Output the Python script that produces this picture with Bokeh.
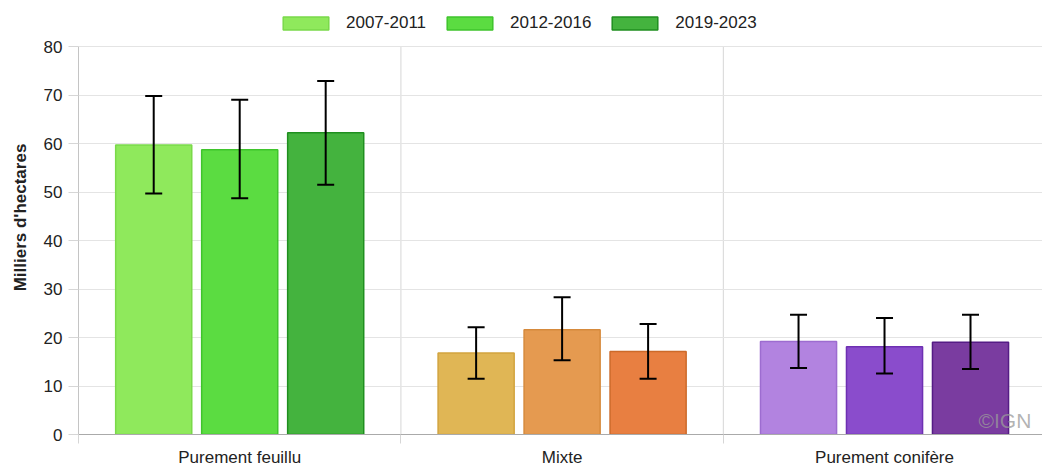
from bokeh.plotting import figure
from bokeh.models import (ColumnDataSource, Range1d, FixedTicker, Whisker, TeeHead,
                          Legend, LegendItem, Label)
from bokeh.embed import file_html
from bokeh.resources import INLINE

categories = ["Purement feuillu", "Mixte", "Purement conifère"]
periods = ["2007-2011", "2012-2016", "2019-2023"]

values_2007 = [59.7, 16.8, 19.2]
low_2007 = [49.7, 11.5, 13.7]
high_2007 = [69.8, 22.1, 24.7]

values_2012 = [58.7, 21.6, 18.1]
low_2012 = [48.7, 15.3, 12.6]
high_2012 = [69.0, 28.3, 24.0]

values_2019 = [62.2, 17.1, 19.0]
low_2019 = [51.5, 11.5, 13.5]
high_2019 = [72.9, 22.8, 24.7]

y_ticks = [0, 10, 20, 30, 40, 50, 60, 70, 80]

fills = [["#8fe95c", "#e0b655", "#b283e0"],
         ["#5bdc41", "#e59a50", "#8a4ccc"],
         ["#44b33e", "#e87f41", "#7a3ca0"]]
borders = [["#7ad94a", "#d2a43e", "#9d6cd0"],
           ["#3fc42c", "#d68a3c", "#6e30b2"],
           ["#1f8f1f", "#cc6a2a", "#551c85"]]

series = [(values_2007, low_2007, high_2007),
          (values_2012, low_2012, high_2012),
          (values_2019, low_2019, high_2019)]

FONT = "Liberation Sans"
offsets = [-0.2667, 0.0, 0.2667]
bar_w = 0.236
y_max = y_ticks[-1]
y_top = y_max * 434 / 388   # headroom above the axis for the legend

p = figure(width=1042, height=469, x_range=Range1d(0, 2.99), y_range=Range1d(0, y_top),
           output_backend="svg", toolbar_location=None,
           min_border_left=78, min_border_right=0, min_border_top=0, min_border_bottom=35)
p.outline_line_color = None
p.background_fill_color = "white"

# category separators (between categories), limited to the axis extent
n = len(categories)
p.segment(x0=list(range(1, n)), y0=[0] * (n - 1), x1=list(range(1, n)), y1=[y_max] * (n - 1),
          line_color="#d6d6d6", line_width=1, level="underlay")

items = []
for i, (vals, lo, hi) in enumerate(series):
    xs = [k + 0.5 + offsets[i] for k in range(n)]
    src = ColumnDataSource(dict(x=xs, top=vals, lower=lo, upper=hi,
                                fill=fills[i], line=borders[i]))
    r = p.vbar(x="x", top="top", width=bar_w, source=src, fill_color="fill",
               line_color="line", line_width=1.5)
    items.append(LegendItem(label=periods[i], renderers=[r], index=0))
    w = Whisker(base="x", upper="upper", lower="lower", source=src,
                line_color="black", line_width=2, level="overlay",
                upper_head=TeeHead(size=17, line_color="black", line_width=2),
                lower_head=TeeHead(size=17, line_color="black", line_width=2))
    p.add_layout(w)

# x axis
p.xaxis.ticker = FixedTicker(ticks=[k + 0.5 for k in range(n)],
                             minor_ticks=list(range(n + 1)))
p.xaxis.major_label_overrides = {k + 0.5: c for k, c in enumerate(categories)}
p.xaxis.major_tick_line_color = None
p.xaxis.major_tick_out = 0
p.xaxis.minor_tick_out = 9
p.xaxis.minor_tick_in = 0
p.xaxis.minor_tick_line_color = "#d6d6d6"
p.xaxis.axis_line_color = "#aaaaaa"
p.xaxis.major_label_standoff = 4
p.xaxis.major_label_text_font = FONT
p.xaxis.major_label_text_font_size = "17px"
p.xaxis.major_label_text_color = "#222222"
p.xgrid.grid_line_color = None

# y axis
p.yaxis.ticker = FixedTicker(ticks=y_ticks)
p.yaxis.bounds = (0, y_max)
p.yaxis.major_tick_out = 10
p.yaxis.major_tick_in = 0
p.yaxis.minor_tick_line_color = None
p.yaxis.major_tick_line_color = "#d6d6d6"
p.yaxis.axis_line_color = "#c4c4c4"
p.yaxis.major_label_standoff = 6
p.yaxis.major_label_text_font = FONT
p.yaxis.major_label_text_font_size = "17px"
p.yaxis.major_label_text_color = "#222222"
p.yaxis.axis_label = "Milliers d'hectares"
p.yaxis.axis_label_text_font = FONT
p.yaxis.axis_label_text_font_style = "bold"
p.yaxis.axis_label_text_font_size = "17px"
p.yaxis.axis_label_text_color = "#222222"
p.yaxis.axis_label_standoff = 11
p.ygrid.grid_line_color = "#e4e4e4"
p.ygrid.ticker = FixedTicker(ticks=y_ticks)

legend = Legend(items=items, orientation="horizontal", location=(199, 401),
                glyph_width=57, glyph_height=16, label_standoff=12, spacing=15,
                padding=4, margin=0, border_line_color=None,
                background_fill_alpha=0,
                label_text_font=FONT, label_text_font_size="17px",
                label_text_color="#222222")
p.add_layout(legend, "center")

wm = Label(x=900, y=3, x_units="screen", y_units="screen", text="©IGN",
           text_font=FONT, text_font_size="21px", text_color="#9a9a9a", text_alpha=0.75)
p.add_layout(wm)

open("out.html", "w").write(file_html(p, INLINE))
